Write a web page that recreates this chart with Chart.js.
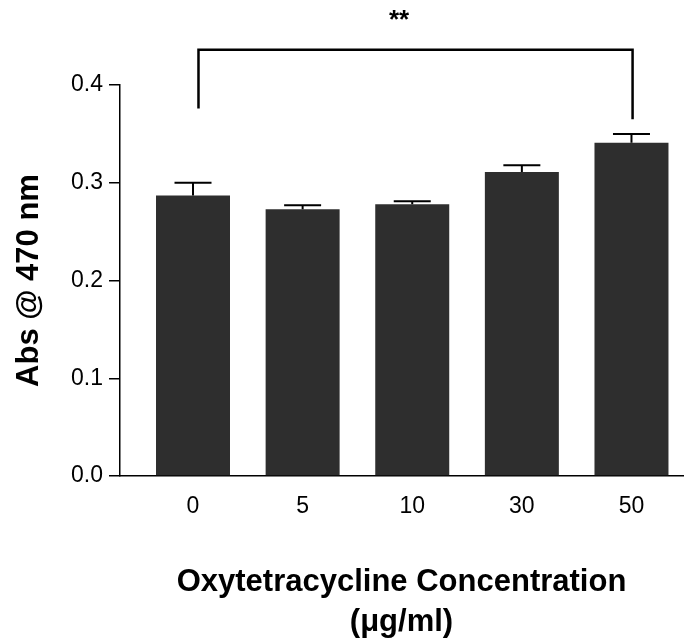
<!DOCTYPE html>
<html>
<head>
<meta charset="utf-8">
<script src="https://cdn.jsdelivr.net/npm/chart.js@4.4.1/dist/chart.umd.min.js"></script>
<style>
  html, body { margin: 0; padding: 0; background: #fff; }
  #wrap { width: 693px; height: 643px; }
</style>
</head>
<body>
<div id="wrap"><canvas id="absChart" width="693" height="643"></canvas></div>
<script>
// data
const categories = ['0', '5', '10', '30', '50'];
const absValues = [0.287, 0.273, 0.278, 0.311, 0.341];
const absErrors = [0.013, 0.004, 0.003, 0.007, 0.009];
const yTicks = [0.0, 0.1, 0.2, 0.3, 0.4];
// significance bracket: from bar index, to bar index, top y, left foot y, right foot y
const bracket = { from: 0.05, to: 4.01, top: 0.436, leftFoot: 0.376, rightFoot: 0.365, label: '**' };

const points = absValues.map((v, i) => ({ x: i, y: v }));

// error bars (upper only) + the ** bracket
const extras = {
    id: 'extras',
    afterDatasetsDraw(chart) {
        const ctx = chart.ctx;
        const xs = chart.scales.x, ys = chart.scales.y;
        const meta = chart.getDatasetMeta(0);
        ctx.save();
        ctx.strokeStyle = '#000';
        ctx.lineWidth = 2;
        meta.data.forEach((bar, i) => {
            const top = ys.getPixelForValue(absValues[i]);
            const errY = ys.getPixelForValue(absValues[i] + absErrors[i]);
            const half = bar.width / 4;
            ctx.beginPath();
            ctx.moveTo(bar.x, top);
            ctx.lineTo(bar.x, errY);
            ctx.moveTo(bar.x - half, errY);
            ctx.lineTo(bar.x + half, errY);
            ctx.stroke();
        });

        const x1 = xs.getPixelForValue(bracket.from);
        const x2 = xs.getPixelForValue(bracket.to);
        const yt = ys.getPixelForValue(bracket.top);
        ctx.lineWidth = 2.5;
        ctx.beginPath();
        ctx.moveTo(x1, ys.getPixelForValue(bracket.leftFoot));
        ctx.lineTo(x1, yt);
        ctx.lineTo(x2, yt);
        ctx.lineTo(x2, ys.getPixelForValue(bracket.rightFoot));
        ctx.stroke();

        ctx.fillStyle = '#000';
        ctx.font = 'bold 26px "Liberation Sans", Arial, sans-serif';
        ctx.textAlign = 'center';
        ctx.textBaseline = 'middle';
        ctx.fillText(bracket.label, xs.getPixelForValue(1.88), ys.getPixelForValue(0.4655));
        ctx.restore();
    }
};

new Chart(document.getElementById('absChart').getContext('2d'), {
    type: 'bar',
    data: {
        datasets: [{
            data: points,
            backgroundColor: '#2e2e2e',
            borderWidth: 0,
            barPercentage: 0.675,
            categoryPercentage: 1.0
        }]
    },
    options: {
        responsive: false,
        animation: false,
        layout: { padding: { top: 85, right: 10, left: 0, bottom: 0 } },
        plugins: { legend: { display: false }, tooltip: { enabled: false } },
        scales: {
            x: {
                type: 'linear',
                offset: false,
                min: -0.666,
                max: 4.47,
                afterBuildTicks: scale => { scale.ticks = categories.map((c, i) => ({ value: i })); },
                afterFit: scale => { scale.height = 167; },
                grid: { display: false },
                border: { color: '#000', width: 1.5 },
                ticks: {
                    padding: 9,
                    color: '#000',
                    font: { family: '"Liberation Sans", Arial, sans-serif', size: 23 },
                    callback: v => categories[v]
                },
                title: {
                    display: true,
                    text: ['Oxytetracycline Concentration', '(\u03bcg/ml)'],
                    color: '#000',
                    font: { family: '"Liberation Sans", Arial, sans-serif', size: 31, weight: 'bold', lineHeight: 1.3 },
                    padding: { top: 0, bottom: 0 }
                }
            },
            y: {
                min: 0,
                max: 0.4,
                afterBuildTicks: scale => { scale.ticks = yTicks.map(v => ({ value: v })); },
                afterFit: scale => { scale.width = 120; },
                grid: { display: true, drawOnChartArea: false, tickLength: 11, color: '#000', lineWidth: 1.5 },
                border: { color: '#000', width: 1.5 },
                ticks: {
                    padding: 6,
                    color: '#000',
                    font: { family: '"Liberation Sans", Arial, sans-serif', size: 23 },
                    callback: v => v.toFixed(1)
                },
                title: {
                    display: true,
                    text: 'Abs @ 470 nm',
                    color: '#000',
                    font: { family: '"Liberation Sans", Arial, sans-serif', size: 31, weight: 'bold' },
                    padding: { top: 11, bottom: 0 }
                }
            }
        }
    },
    plugins: [extras]
});
</script>
</body>
</html>
